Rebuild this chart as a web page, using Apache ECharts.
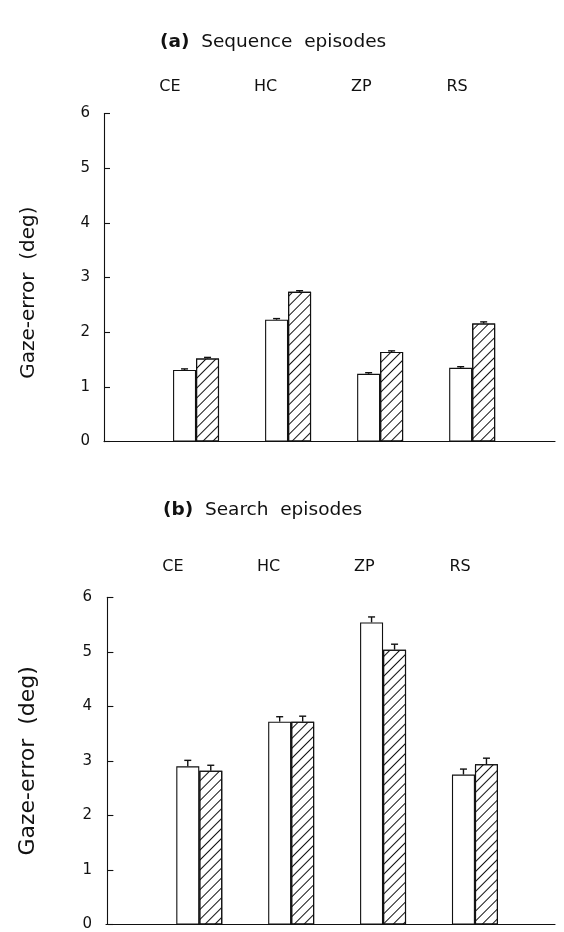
<!DOCTYPE html>
<html><head><meta charset="utf-8">
<script src="https://cdn.jsdelivr.net/npm/echarts/dist/echarts.min.js"></script>
<style>html,body{margin:0;padding:0;background:#fff}#c{width:564px;height:932px}</style>
</head><body><div id="c"></div>
<script>
// ---- data ----
const categories = ['CE', 'HC', 'ZP', 'RS'];
const yTicks = [0, 1, 2, 3, 4, 5, 6];
// (a) Sequence episodes
const seqWhite = [1.31, 2.23, 1.24, 1.35];
const seqHatched = [1.52, 2.74, 1.64, 2.16];
const seqWhiteErr = [0.02, 0.02, 0.02, 0.02];
const seqHatchedErr = [0.02, 0.02, 0.02, 0.03];
// (b) Search episodes
const srchWhite = [2.90, 3.72, 5.54, 2.75];
const srchHatched = [2.82, 3.72, 5.04, 2.94];
const srchWhiteErr = [0.11, 0.09, 0.10, 0.10];
const srchHatchedErr = [0.10, 0.10, 0.10, 0.11];

const FONT = 'DejaVu Sans';
const INK = '#111';
const BARW = 23;

const chart = echarts.init(document.getElementById('c'), null, {renderer: 'canvas'});

function pairs(arr) { return arr.map((v, i) => [i + 1, v]); }
function errRows(vals, errs, side) { return vals.map((v, i) => [i + 1, v, errs[i], side]); }

function yAxisDef(gridIndex, nameSize, nameGap, namePad) {
  return {
    gridIndex: gridIndex, type: 'value', min: yTicks[0], max: yTicks[yTicks.length - 1], interval: 1,
    axisLine: {show: true, lineStyle: {color: INK, width: 1.1}},
    axisTick: {show: true, inside: true, length: 6, lineStyle: {color: INK, width: 1.1}},
    axisLabel: {color: INK, fontFamily: FONT, fontSize: 15, margin: 14},
    splitLine: {show: false},
    name: 'Gaze-error  (deg)', nameLocation: 'middle', nameRotate: 90, nameGap: nameGap,
    nameTextStyle: {color: INK, fontFamily: FONT, fontSize: nameSize, padding: namePad}
  };
}
function xValueAxis(gridIndex, min, max) {
  return {
    gridIndex: gridIndex, type: 'value', min: min, max: max,
    axisLine: {show: true, onZero: false, lineStyle: {color: INK, width: 1.1}},
    axisTick: {show: false}, axisLabel: {show: false}, splitLine: {show: false}
  };
}
function xLabelAxis(gridIndex) {
  return {
    gridIndex: gridIndex, type: 'category', position: 'top', data: categories,
    axisLine: {show: false}, axisTick: {show: false}, splitLine: {show: false},
    axisLabel: {color: INK, fontFamily: FONT, fontSize: 16, margin: 0}
  };
}
function hiddenY(gridIndex) {
  return {gridIndex: gridIndex, type: 'value', show: false, min: 0, max: 1};
}
function barSeries(xi, data, hatched) {
  const itemStyle = {color: '#fff', borderColor: INK, borderWidth: 1.1};
  if (hatched) {
    itemStyle.decal = {
      symbol: 'rect', symbolSize: 1, color: INK,
      dashArrayX: [1, 0], dashArrayY: [1, 5.5], rotation: -Math.PI / 4
    };
  }
  return {
    type: 'bar', xAxisIndex: xi, yAxisIndex: xi, data: pairs(data),
    barWidth: BARW, barGap: '0%', itemStyle: itemStyle, silent: true, z: 2
  };
}
function errSeries(xi, rows) {
  return {
    type: 'custom', xAxisIndex: xi, yAxisIndex: xi, data: rows, z: 5, silent: true,
    renderItem: function (params, api) {
      const p0 = api.coord([api.value(0), api.value(1)]);
      const p1 = api.coord([api.value(0), api.value(1) + api.value(2)]);
      const x = p0[0] + api.value(3) * BARW / 2;
      const st = {stroke: INK, lineWidth: 1.4};
      return {
        type: 'group', children: [
          {type: 'line', shape: {x1: x, y1: p0[1], x2: x, y2: p1[1]}, style: st},
          {type: 'line', shape: {x1: x - 3.5, y1: p1[1], x2: x + 3.5, y2: p1[1]}, style: st}
        ]
      };
    }
  };
}

const titleStyle = {
  color: INK, fontFamily: FONT, fontSize: 18.5, fontWeight: 'normal',
  rich: {b: {fontFamily: FONT, fontSize: 18.5, fontWeight: 'bold', color: INK}}
};

chart.setOption({
  animation: false,
  backgroundColor: '#fff',
  title: [
    {text: '{b|(a)}  Sequence  episodes', left: 155, top: 28, textStyle: titleStyle},
    {text: '{b|(b)}  Search  episodes', left: 158, top: 496, textStyle: titleStyle}
  ],
  grid: [
    {left: 104, top: 113.6, width: 451, height: 328},
    {left: 106, top: 597.3, width: 449, height: 329.4},
    {left: 122, top: 95, width: 383, height: 1},
    {left: 125, top: 575, width: 383, height: 1}
  ],
  xAxis: [
    xValueAxis(0, 0, 4.9),
    xValueAxis(1, -0.015, 4.871),
    xLabelAxis(2),
    xLabelAxis(3)
  ],
  yAxis: [
    yAxisDef(0, 20, 65, [0, 30, 0, 0]),
    yAxisDef(1, 22, 67, 0),
    hiddenY(2),
    hiddenY(3)
  ],
  series: [
    barSeries(0, seqWhite, false),
    barSeries(0, seqHatched, true),
    errSeries(0, errRows(seqWhite, seqWhiteErr, -1)),
    errSeries(0, errRows(seqHatched, seqHatchedErr, 1)),
    barSeries(1, srchWhite, false),
    barSeries(1, srchHatched, true),
    errSeries(1, errRows(srchWhite, srchWhiteErr, -1)),
    errSeries(1, errRows(srchHatched, srchHatchedErr, 1))
  ]
});
</script>
</body></html>
